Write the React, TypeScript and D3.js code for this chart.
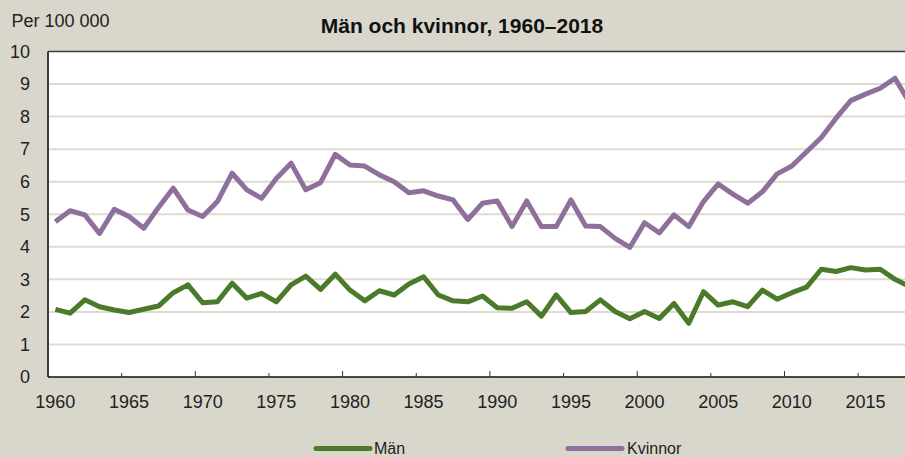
import React from "react";
import * as d3 from "d3";

const years: number[] = Array.from({ length: 59 }, (_, i) => 1960 + i);

const man: number[] = [
  2.08, 1.96, 2.37, 2.16, 2.06, 1.98, 2.08, 2.18, 2.59, 2.83,
  2.28, 2.31, 2.88, 2.42, 2.57, 2.31, 2.83, 3.10, 2.69, 3.16,
  2.67, 2.34, 2.65, 2.52, 2.86, 3.08, 2.52, 2.34, 2.31, 2.49,
  2.13, 2.11, 2.31, 1.87, 2.52, 1.98, 2.01, 2.37, 2.01, 1.79,
  2.01, 1.80, 2.26, 1.65, 2.62, 2.21, 2.31, 2.16, 2.67, 2.39,
  2.59, 2.76, 3.31, 3.24, 3.36, 3.29, 3.31, 3.00, 2.78,
];

const kvinnor: number[] = [
  4.77, 5.11, 4.98, 4.41, 5.15, 4.93, 4.57, 5.21, 5.80, 5.13,
  4.93, 5.39, 6.26, 5.75, 5.49, 6.10, 6.57, 5.75, 5.97, 6.84,
  6.51, 6.48, 6.21, 6.00, 5.66, 5.72, 5.56, 5.44, 4.84, 5.34,
  5.41, 4.62, 5.41, 4.62, 4.62, 5.44, 4.64, 4.62, 4.26, 3.98,
  4.74, 4.43, 4.98, 4.62, 5.39, 5.93, 5.62, 5.34, 5.69, 6.24,
  6.48, 6.92, 7.36, 7.95, 8.49, 8.69, 8.87, 9.18, 8.42,
];

const yTicks: number[] = [0, 1, 2, 3, 4, 5, 6, 7, 8, 9, 10];
const xLabelYears: number[] = [1960, 1965, 1970, 1975, 1980, 1985, 1990, 1995, 2000, 2005, 2010, 2015];

const title = "Män och kvinnor, 1960–2018";
const yUnit = "Per 100 000";
const seriesNames = ["Män", "Kvinnor"];

const W = 905;
const H = 457;
const FONT = "'Liberation Sans', Arial, sans-serif";
const BG = "#d9d7cb";
const GREEN = "#4b7a2b";
const PURPLE = "#8d709b";
const GRID = "#dedbd0";

export default function App() {
  const left = 48;
  const bandW = 14.73;
  const x = d3
    .scaleBand<number>()
    .domain(years)
    .range([left, left + years.length * bandW])
    .padding(0);
  const y = d3.scaleLinear().domain([0, 10]).range([377, 51.5]);
  const cx = (yr: number) => (x(yr) as number) + x.bandwidth() / 2;

  const line = d3
    .line<number>()
    .x((_, i) => cx(years[i]))
    .y((d) => y(d));

  const series = [
    { name: seriesNames[0], values: man, color: GREEN },
    { name: seriesNames[1], values: kvinnor, color: PURPLE },
  ];

  const right = left + years.length * bandW;
  const tickYears = xLabelYears.filter((yr) => yr !== 1960);

  return (
    <svg
      width={W}
      height={H}
      style={{ position: "absolute", left: 0, top: 0, display: "block" }}
      fontFamily={FONT}
    >
      <rect x={0} y={0} width={W} height={H} fill={BG} />
      <rect x={left} y={y(10)} width={right - left} height={y(0) - y(10)} fill="#ffffff" />
      {yTicks
        .filter((t) => t > 0 && t < 10)
        .map((t) => (
          <line key={t} x1={left} x2={right} y1={y(t)} y2={y(t)} stroke={GRID} strokeWidth={2} />
        ))}
      {series.map((s) => (
        <path
          key={s.name}
          d={line(s.values) || ""}
          fill="none"
          stroke={s.color}
          strokeWidth={5}
          strokeLinejoin="round"
        />
      ))}
      {/* frame */}
      <line x1={left} x2={right} y1={y(10)} y2={y(10)} stroke="#3c3c3c" strokeWidth={1.5} />
      <line x1={left} x2={left} y1={y(10)} y2={y(0)} stroke="#3c3c3c" strokeWidth={2} />
      <line x1={left} x2={right} y1={y(0)} y2={y(0)} stroke="#111" strokeWidth={1.5} />
      {tickYears.map((yr) => (
        <line
          key={yr}
          x1={x(yr) as number}
          x2={x(yr) as number}
          y1={y(0)}
          y2={y(0) - (yr % 10 === 0 ? 6 : 4)}
          stroke="#333"
          strokeWidth={1}
        />
      ))}
      {yTicks.map((t) => (
        <text key={t} x={30} y={y(t)} dy="0.35em" textAnchor="end" fontSize={18} fill="#222">
          {t}
        </text>
      ))}
      {xLabelYears.map((yr) => (
        <text key={yr} x={cx(yr)} y={407.5} textAnchor="middle" fontSize={18} fill="#222">
          {yr}
        </text>
      ))}
      <text x={11.5} y={27} fontSize={18} fill="#222">
        {yUnit}
      </text>
      <text x={462} y={33} textAnchor="middle" fontSize={21} fontWeight="bold" fill="#111">
        {title}
      </text>
      {/* legend */}
      <line x1={316} x2={370} y1={448.5} y2={448.5} stroke={GREEN} strokeWidth={5} strokeLinecap="round" />
      <text x={374} y={454} fontSize={16} fill="#222">
        {series[0].name}
      </text>
      <line x1={568} x2={622} y1={448.5} y2={448.5} stroke={PURPLE} strokeWidth={5} strokeLinecap="round" />
      <text x={627} y={454} fontSize={16} fill="#222">
        {series[1].name}
      </text>
    </svg>
  );
}
